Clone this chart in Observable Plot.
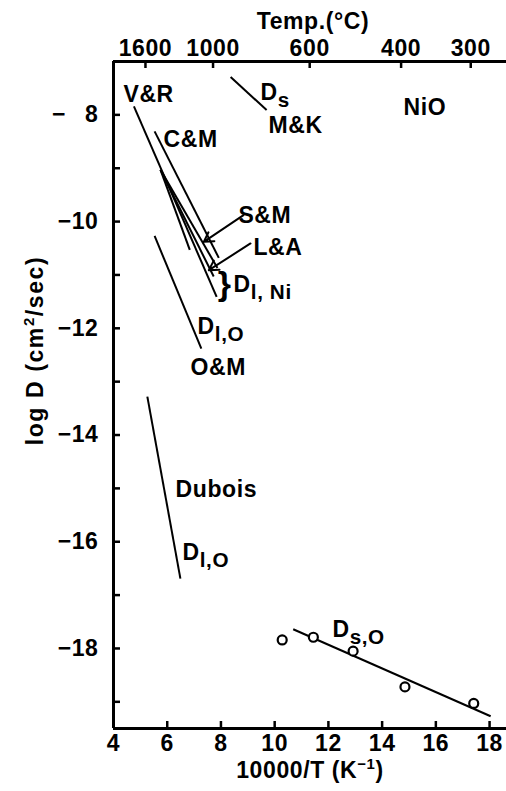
<!DOCTYPE html>
<html>
<head>
<meta charset="utf-8">
<script src="https://cdn.jsdelivr.net/npm/d3@7"></script>
<script src="https://cdn.jsdelivr.net/npm/@observablehq/plot@0.6"></script>
<style>
  body { margin: 0; background: #fff; }
  #chart svg text { font-family: "Liberation Sans", Arial, sans-serif; font-weight: bold; }
</style>
</head>
<body>
<div id="chart"></div>
<script>
// Diffusion in NiO: log D against 10000/T, with literature Arrhenius lines.

// Axis ranges and ticks
const xDomain = [4, 18.63];
const yDomain = [-19.5, -7];
const xTickValues = [4, 6, 8, 10, 12, 14, 16, 18];
const yLabelValues = [-8, -10, -12, -14, -16, -18];
const yMinorValues = [-19, -18, -17, -16, -15, -14, -13, -12, -11, -10, -9, -8];
const tempTicksC = [1600, 1000, 600, 400, 300];

// Reported Arrhenius lines (end points in 10000/T, log D)
const lineSource = ["V&R", "C&M", "S&M", "L&A", "Ni-b", "O&M", "Dubois", "M&K", "Ds,O fit"];
const lineX1 = [4.76, 5.53, 5.75, 5.75, 5.75, 5.53, 5.26, 8.36, 10.69];
const lineY1 = [-7.84, -8.31, -9.03, -9.03, -9.03, -10.27, -13.28, -7.29, -17.64];
const lineX2 = [7.84, 7.92, 7.87, 7.73, 6.84, 7.27, 6.49, 9.70, 18.04];
const lineY2 = [-11.41, -10.68, -10.87, -11.03, -10.53, -12.38, -16.69, -7.91, -19.27];

// Surface oxygen diffusion measurements
const dsOxygenInvT = [10.28, 11.44, 12.92, 14.85, 17.41];
const dsOxygenLogD = [-17.84, -17.79, -18.05, -18.72, -19.03];

// Annotation labels (left/baseline anchor in data units)
const labelText = ["V&R", "C&M", "D_{s}", "M&K", "NiO", "S&M", "L&A", "D_{l, Ni}", "D_{l,O}", "O&M", "Dubois", "D_{l,O}", "D_{s,O}"];
const labelX = [4.37, 5.86, 9.47, 9.77, 14.80, 8.65, 9.21, 8.47, 7.13, 6.87, 6.31, 6.57, 12.15];
const labelY = [-7.76, -8.60, -7.72, -8.34, -8.00, -10.02, -10.63, -11.32, -12.11, -12.88, -15.16, -16.34, -17.79];

// Pointer arrows from the S&M and L&A labels
const pointerX1 = [8.84, 9.10];
const pointerY1 = [-9.88, -10.41];
const pointerX2 = [7.36, 7.55];
const pointerY2 = [-10.38, -10.91];

const segments = lineSource.map((s, i) => ({source: s, x1: lineX1[i], y1: lineY1[i], x2: lineX2[i], y2: lineY2[i]}));
const points = dsOxygenInvT.map((x, i) => ({x, y: dsOxygenLogD[i]}));
const labels = labelText.map((t, i) => ({t, x: labelX[i], y: labelY[i]}));
const pointers = pointerX1.map((x, i) => ({x1: x, y1: pointerY1[i], x2: pointerX2[i], y2: pointerY2[i]}));

const W = 506, H = 791;
const mL = 113, mR = 0, mT = 61, mB = 63;
const innerW = W - mL - mR, innerH = H - mT - mB;
const tick = 7;
const ink = "#000";
const invT = (c) => 10000 / (c + 273.15);
const topShift = -4; // hand-drawn temperature scale sits slightly left

const svg = Plot.plot({
  width: W,
  height: H,
  marginLeft: mL,
  marginRight: mR,
  marginTop: mT,
  marginBottom: mB,
  style: {fontSize: "23px", background: "#fff", color: ink, overflow: "visible"},
  x: {domain: xDomain, axis: null},
  y: {domain: yDomain, axis: null},
  marks: [
    // frame lines (left, bottom, top)
    Plot.ruleX([xDomain[0]], {stroke: ink, strokeWidth: 3}),
    Plot.ruleY(yDomain, {stroke: ink, strokeWidth: 3}),
    // inward ticks
    Plot.ruleY(yMinorValues, {y: (d) => d, insetRight: innerW - tick, stroke: ink, strokeWidth: 2.5}),
    Plot.ruleX(xTickValues.slice(1), {x: (d) => d, insetTop: innerH - tick, stroke: ink, strokeWidth: 2.5}),
    Plot.ruleX(tempTicksC, {x: invT, dx: topShift, insetBottom: innerH - tick, stroke: ink, strokeWidth: 2.5}),
    // tick labels
    Plot.text(yLabelValues, {x: xDomain[0], y: (d) => d, text: (d) => d === -8 ? "\u2212\u2002 8" : "\u2212" + Math.abs(d), textAnchor: "end", lineAnchor: "middle", dx: -15, fill: ink}),
    Plot.text(xTickValues, {x: (d) => d, frameAnchor: "bottom", text: (d) => String(d), textAnchor: "middle", lineAnchor: "top", dy: 6, fill: ink}),
    Plot.text(tempTicksC, {x: invT, frameAnchor: "top", text: (d) => String(d), textAnchor: "middle", lineAnchor: "bottom", dx: topShift, dy: -6, fill: ink}),
    // axis titles
    Plot.text(["Temp.(\u00b0C)"], {frameAnchor: "top", text: (d) => d, textAnchor: "middle", lineAnchor: "bottom", dx: 3, dy: -33, fill: ink}),
    Plot.text(["10000/T (K^{\u22121})"], {frameAnchor: "bottom", text: (d) => d, textAnchor: "middle", lineAnchor: "bottom", dy: 49, fill: ink}),
    Plot.text(["log D (cm^{2}/sec)"], {frameAnchor: "left", text: (d) => d, rotate: -90, textAnchor: "middle", lineAnchor: "bottom", dx: -71, dy: -44.5, fill: ink}),
    // literature lines
    Plot.link(segments, {x1: "x1", y1: "y1", x2: "x2", y2: "y2", stroke: ink, strokeWidth: 2}),
    // pointers
    Plot.arrow(pointers, {x1: "x1", y1: "y1", x2: "x2", y2: "y2", stroke: ink, strokeWidth: 2, headLength: 8}),
    // data points
    Plot.dot(points, {x: "x", y: "y", r: 4.5, stroke: ink, strokeWidth: 2.2, fill: "#fff"}),
    // labels
    Plot.text(labels, {x: "x", y: "y", text: "t", textAnchor: "start", lineAnchor: "bottom", fill: ink}),
    Plot.text(["}"], {x: [8.14], y: [-11.17], text: (d) => d, fontSize: 34, textAnchor: "middle", lineAnchor: "middle", fill: ink})
  ]
});

// Turn _{...} and ^{...} runs into lowered / raised tspans
function richText(root) {
  const ns = "http://www.w3.org/2000/svg";
  root.querySelectorAll("text").forEach((t) => {
    const s = t.textContent;
    if (!/[_^]\{/.test(s)) return;
    t.textContent = "";
    const re = /([_^])\{([^}]*)\}/g;
    let last = 0, shift = 0, m;
    const add = (str, kind) => {
      if (!str) return;
      const ts = document.createElementNS(ns, "tspan");
      ts.textContent = str;
      const target = kind === "_" ? 7 : kind === "^" ? -9 : 0;
      if (target !== shift) { ts.setAttribute("dy", target - shift); shift = target; }
      if (kind) ts.setAttribute("font-size", kind === "^" ? "0.65em" : "0.9em");
      t.appendChild(ts);
    };
    while ((m = re.exec(s))) {
      add(s.slice(last, m.index), null);
      add(m[2], m[1]);
      last = re.lastIndex;
    }
    add(s.slice(last), null);
  });
}
richText(svg);
svg.querySelectorAll("text").forEach((t) => {
  const rotated = /rotate/.test(t.getAttribute("transform") || "");
  t.setAttribute("letter-spacing", rotated ? "1.6" : "0.6");
});

document.getElementById("chart").appendChild(svg);
</script>
</body>
</html>
